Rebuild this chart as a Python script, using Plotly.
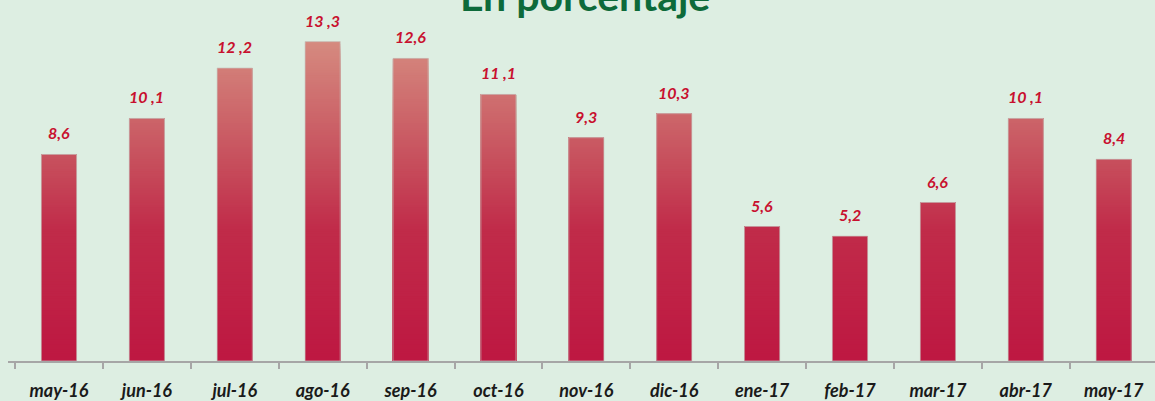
import plotly.graph_objects as go
import numpy as np

categories = ["may-16", "jun-16", "jul-16", "ago-16", "sep-16", "oct-16", "nov-16",
              "dic-16", "ene-17", "feb-17", "mar-17", "abr-17", "may-17"]
values = [8.6, 10.1, 12.2, 13.3, 12.6, 11.1, 9.3, 10.3, 5.6, 5.2, 6.6, 10.1, 8.4]
value_labels = ["8,6", "10 ,1", "12 ,2", "13 ,3", "12,6", "11 ,1", "9,3", "10,3",
                "5,6", "5,2", "6,6", "10 ,1", "8,4"]
title_text = "En porcentaje"

BG = "#ddeee2"
FONT = "Lato"

# gradient stops (value level -> colour), gradient by absolute height
stops_v = [0.0, 5.5, 8.6, 13.3, 14.5]
stops_c = [(190, 24, 66), (193, 44, 74), (200, 83, 95), (214, 139, 128), (218, 150, 138)]


def colour_at(v):
    r = np.interp(v, stops_v, [c[0] for c in stops_c])
    g = np.interp(v, stops_v, [c[1] for c in stops_c])
    b = np.interp(v, stops_v, [c[2] for c in stops_c])
    return f"rgb({int(r)},{int(g)},{int(b)})"


fig = go.Figure()
step = 0.1
nlev = int(np.ceil(max(values) / step))
# cumulative bars drawn from the top level down so that lower levels cover the rest (no seams)
for k in range(nlev - 1, -1, -1):
    top = (k + 1) * step
    fig.add_trace(go.Bar(
        x=categories, y=[min(v, top) for v in values], width=0.4,
        marker=dict(color=colour_at(k * step + step / 2), line=dict(width=0)),
        hoverinfo="skip", showlegend=False,
    ))

# outline
fig.add_trace(go.Bar(
    x=categories, y=values, width=0.4,
    marker=dict(color="rgba(0,0,0,0)", line=dict(width=1, color="rgba(200,195,190,0.7)")),
    showlegend=False,
))

for c, v, t in zip(categories, values, value_labels):
    fig.add_annotation(x=c, y=v, text=f"<b><i>{t}</i></b>", showarrow=False,
                       yanchor="bottom", yshift=10,
                       font=dict(family=FONT, size=16, color="#c8102e"))

fig.add_annotation(xref="paper", yref="paper", x=0.503, y=1.0, yshift=25,
                   yanchor="middle", text=f"<b>{title_text}</b>", showarrow=False,
                   font=dict(family=FONT, size=41, color="#0d6a3a"))

fig.update_layout(
    width=1155, height=401,
    margin=dict(l=8, r=0, t=20, b=38),
    paper_bgcolor=BG, plot_bgcolor=BG,
    barmode="overlay",
    xaxis=dict(
        type="category", range=[-0.58, 12.47],
        showline=True, linecolor="#a6a6a6", linewidth=2,
        ticks="outside", tickson="boundaries", ticklen=6, tickwidth=2, tickcolor="#a6a6a6",
        showgrid=False, zeroline=False,
        tickfont=dict(family=FONT, size=18, color="#1a1a1a"),
        tickvals=categories, ticktext=[f"<b><i>{c}</i></b>" for c in categories],
        ticklabelstandoff=12,
    ),
    yaxis=dict(range=[0, 14.2], visible=False, showgrid=False, zeroline=False),
)

fig.write_html("out.html", config={"displayModeBar": False},
               post_script="document.body.style.margin='0';")
